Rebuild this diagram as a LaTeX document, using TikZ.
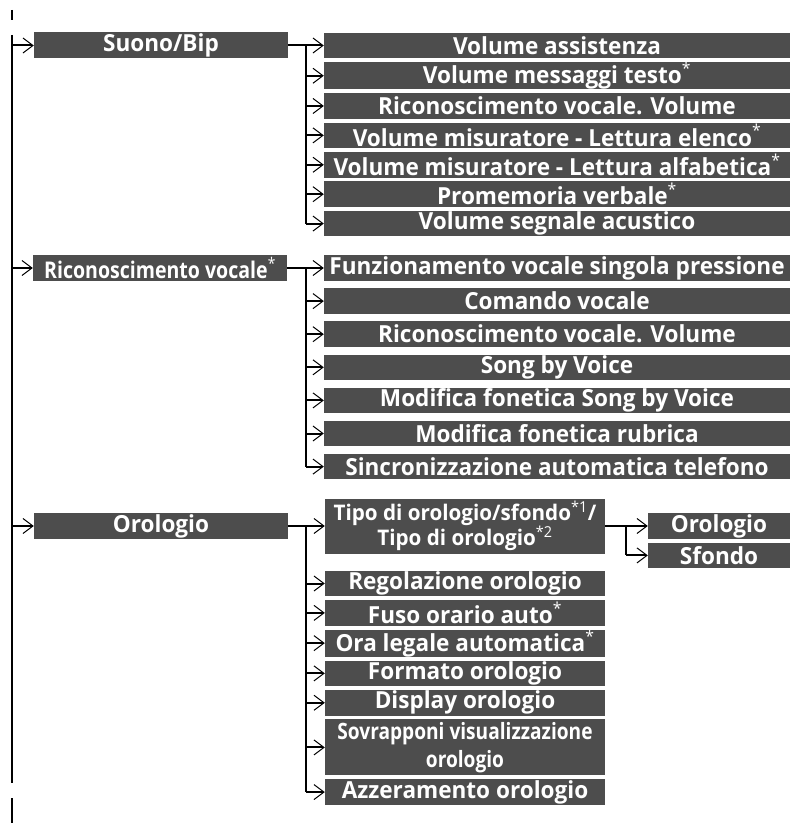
\documentclass[tikz,border=0pt]{standalone}
\usepackage{fontspec}
\setmainfont[FakeStretch=0.96]{Open Sans}
\newfontfamily\narrowfont[FakeStretch=0.85]{Open Sans}
\usepackage{xcolor}
\usetikzlibrary{arrows.meta,positioning}
\definecolor{menugray}{HTML}{4D4D4D}
\newcommand{\fn}[1]{\textsuperscript{\mdseries #1}}

\begin{document}
\begin{tikzpicture}[x=1pt,y=-1pt,
  node distance=3.5pt,
  top/.style={fill=menugray,text=white,font=\bfseries\fontsize{23.5}{26}\selectfont,minimum width=254pt,minimum height=26pt,inner sep=0pt},
  sub/.style={top,minimum width=466pt,minimum height=25.5pt},
  clk/.style={sub,minimum width=280pt,align=center},
  leaf/.style={sub,minimum width=142pt},
  wire/.style={line width=2pt},
  arr/.style={wire,-{Straight Barb[length=10pt,width=15pt,line width'=1pt]}}
]
\useasboundingbox (0,0) rectangle (804,826);
% first level
\node[top] (suono) at (161,45.5) {Suono/Bip};
\node[top,font=\narrowfont\bfseries\fontsize{23}{26}\selectfont] (ricon) at (160,268) {Riconoscimento vocale\fn{*}};
\node[top] (orol) at (161,526) {Orologio};
% Suono/Bip
\node[sub] (s1) at (557,45.5) {Volume assistenza};
\node[sub,below=of s1] (s2) {Volume messaggi testo\fn{*}};
\node[sub,below=of s2] (s3) {Riconoscimento vocale. Volume};
\node[sub,below=of s3] (s4) {Volume misuratore - Lettura elenco\fn{*}};
\node[sub,below=of s4] (s5) {Volume misuratore - Lettura alfabetica\fn{*}};
\node[sub,below=of s5] (s6) {Promemoria verbale\fn{*}};
\node[sub,below=of s6] (s7) {Volume segnale acustico};
% Riconoscimento vocale
\node[sub] (r1) at (557,268) {Funzionamento vocale singola pressione};
\node[sub,below=7.2pt of r1] (r2) {Comando vocale};
\node[sub,below=7.2pt of r2] (r3) {Riconoscimento vocale. Volume};
\node[sub,below=7.2pt of r3] (r4) {Song by Voice};
\node[sub,below=7.2pt of r4] (r5) {Modifica fonetica Song by Voice};
\node[sub,below=7.2pt of r5] (r6) {Modifica fonetica rubrica};
\node[sub,below=7.2pt of r6] (r7) {Sincronizzazione automatica telefono};
% Orologio
\node[clk,minimum height=55pt,font=\bfseries\fontsize{21.5}{23}\selectfont] (o1) at (465,526) {Tipo di orologio/sfondo\fn{*1}/\\Tipo di orologio\fn{*2}};
\node[clk] (o2) at (465,583.5) {Regolazione orologio};
\node[clk,below=of o2] (o3) {Fuso orario auto\fn{*}};
\node[clk,below=of o3] (o4) {Ora legale automatica\fn{*}};
\node[clk,below=of o4] (o5) {Formato orologio};
\node[clk,below=of o5] (o6) {Display orologio};
\node[clk,below=of o6,minimum height=56pt,font=\narrowfont\bfseries\fontsize{22.5}{28}\selectfont] (o7) {Sovrapponi visualizzazione\\orologio};
\node[clk,below=of o7] (o8) {Azzeramento orologio};
\node[leaf] (ck) at (719,526) {Orologio};
\node[leaf,below=of ck] (bg) {Sfondo};
% connectors
\coordinate (main) at (12,35);
\coordinate (mainend) at (12,783);
\coordinate (tick1) at (12,10);
\coordinate (tick1end) at (12,20);
\coordinate (tick2) at (12,798);
\coordinate (tick2end) at (12,823);
\draw[wire] (main) -- (mainend);
\draw[wire] (tick1) -- (tick1end);
\draw[line width=1.5pt] (tick2) -- (tick2end);
\foreach \n in {suono,ricon,orol} \draw[arr] (main |- \n.west) -- (\n.west);
\coordinate (sj) at (306,45.5);
\coordinate (rj) at (306,268);
\coordinate (oj) at (306,526);
\coordinate (cj) at (626,526);
\draw[arr] (suono.east) -- (s1.west);
\draw[wire] (sj) -- (sj |- s7.west);
\foreach \n in {s2,s3,s4,s5,s6,s7} \draw[arr] (sj |- \n.west) -- (\n.west);
\draw[arr] (ricon.east) -- (r1.west);
\draw[wire] (rj) -- (rj |- r7.west);
\foreach \n in {r2,r3,r4,r5,r6,r7} \draw[arr] (rj |- \n.west) -- (\n.west);
\draw[arr] (orol.east) -- (o1.west);
\draw[wire] (oj) -- (oj |- o8.west);
\foreach \n in {o2,o3,o4,o5,o6,o7,o8} \draw[arr] (oj |- \n.west) -- (\n.west);
\draw[arr] (o1.east) -- (ck.west);
\draw[wire] (cj) -- (cj |- bg.west);
\draw[arr] (cj |- bg.west) -- (bg.west);
\end{tikzpicture}
\end{document}
